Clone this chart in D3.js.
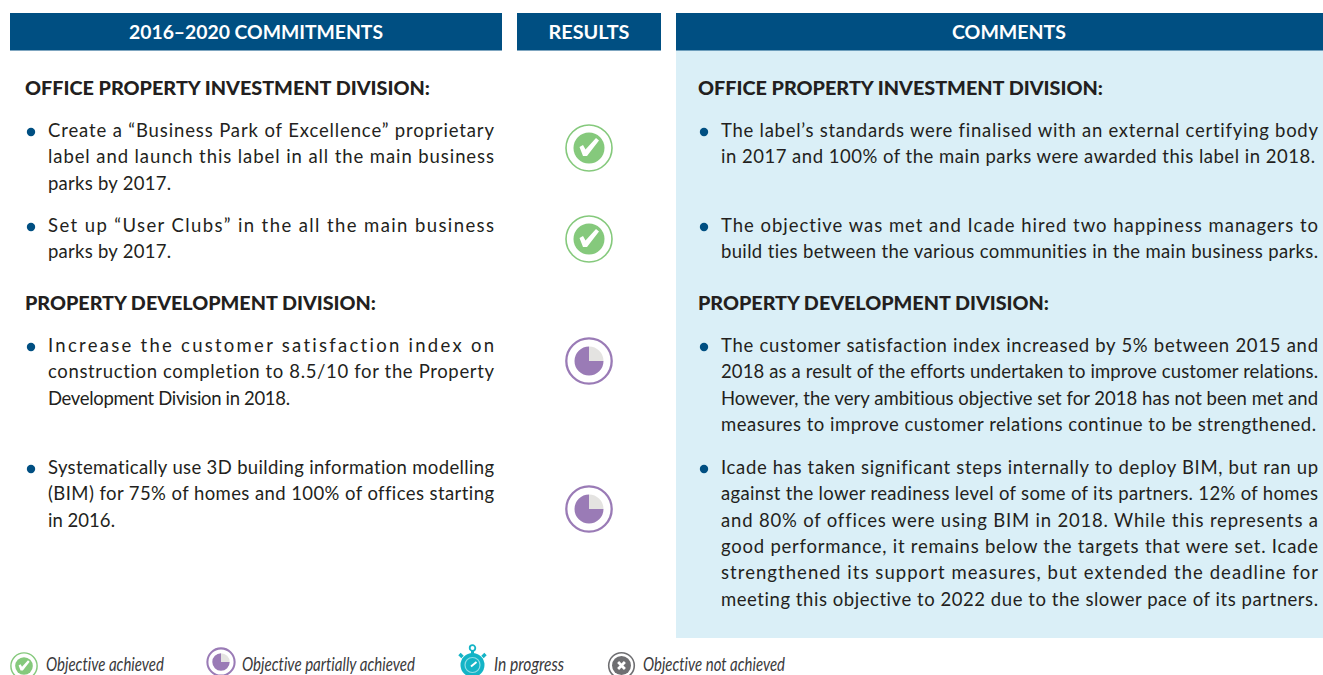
<!DOCTYPE html>
<html>
<head>
<meta charset="utf-8">
<script src="https://cdnjs.cloudflare.com/ajax/libs/d3/7.8.5/d3.min.js"></script>
<style>
  html, body { margin: 0; padding: 0; background: #fff; overflow: hidden; }
  svg { display: block; }
  text { font-family: Lato, "Open Sans", sans-serif; font-variant-ligatures: none; }
</style>
</head>
<body>
<div class="chart"></div>
<script>
// Table content
var columnTitles = ["2016–2020 COMMITMENTS", "RESULTS", "COMMENTS"];
var sectionTitles = ["OFFICE PROPERTY INVESTMENT DIVISION:", "PROPERTY DEVELOPMENT DIVISION:"];

var commitments = [
  ["Create a “Business Park of Excellence” proprietary", "label and launch this label in all the main business", "parks by 2017."],
  ["Set up “User Clubs” in the all the main business", "parks by 2017."],
  ["Increase the customer satisfaction index on", "construction completion to 8.5/10 for the Property", "Development Division in 2018."],
  ["Systematically use 3D building information modelling", "(BIM) for 75% of homes and 100% of offices starting", "in 2016."]
];
var comments = [
  ["The label’s standards were finalised with an external certifying body", "in 2017 and 100% of the main parks were awarded this label in 2018."],
  ["The objective was met and Icade hired two happiness managers to", "build ties between the various communities in the main business parks."],
  ["The customer satisfaction index increased by 5% between 2015 and", "2018 as a result of the efforts undertaken to improve customer relations.", "However, the very ambitious objective set for 2018 has not been met and", "measures to improve customer relations continue to be strengthened."],
  ["Icade has taken significant steps internally to deploy BIM, but ran up", "against the lower readiness level of some of its partners. 12% of homes", "and 80% of offices were using BIM in 2018. While this represents a", "good performance, it remains below the targets that were set. Icade", "strengthened its support measures, but extended the deadline for", "meeting this objective to 2022 due to the slower pace of its partners."]
];
// share of each objective reached, 1 = achieved (check mark)
var results = [1, 1, 0.75, 0.75];
var legendLabels = ["Objective achieved", "Objective partially achieved", "In progress", "Objective not achieved"];

var svgWidth = 1323;
var svgHeight = 675;

var navy = "#004f82";
var ink = "#231f20";
var green = "#85c97c";
var purple = "#9a7bb6";
var teal = "#14b4c6";
var grey = "#6f6f72";

var svg = d3.select(".chart")
  .append("svg")
  .attr("width", svgWidth)
  .attr("height", svgHeight);

// Column headers and the tinted comments panel
var headers = [
  {x: 10, w: 492, titleX: 256, titleW: 254},
  {x: 517, w: 144, titleX: 589, titleW: 81},
  {x: 676, w: 647, titleX: 1009, titleW: 114}
];

svg.append("rect")
  .attr("x", 676).attr("y", 50)
  .attr("width", 647).attr("height", 588)
  .attr("fill", "#daeff7");

headers.forEach(function(h, i) {
  svg.append("rect")
    .attr("x", h.x).attr("y", 13)
    .attr("width", h.w).attr("height", 37.5)
    .attr("fill", navy);
  svg.append("text")
    .attr("x", h.titleX - h.titleW / 2).attr("y", 38.5)
    .attr("font-size", 18.5)
    .attr("font-weight", 700)
    .attr("fill", "#fff")
    .attr("textLength", h.titleW)
    .attr("lengthAdjust", "spacingAndGlyphs")
    .text(columnTitles[i]);
});

// Section titles
[25, 698].forEach(function(x) {
  [94.5, 309.5].forEach(function(y, i) {
    svg.append("text")
      .attr("x", x).attr("y", y)
      .attr("font-size", 18.5)
      .attr("font-weight", 900)
      .attr("fill", ink)
      .attr("textLength", i === 0 ? 405 : 351)
      .attr("lengthAdjust", "spacingAndGlyphs")
      .text(sectionTitles[i]);
  });
});

// Bulleted paragraphs: every line is fitted to its measured width, like the justified original
var itemTops = [137, 232, 352, 474];
var leftEnds = [[494, 494, 171], [494, 171], [494, 494, 290], [494, 494, 115]];
var rightEnds = [[1318, 1315], [1318, 1318], [1318, 1318, 1318, 1316], [1318, 1318, 1318, 1318, 1318, 1318]];
var lineHeight = 26.3;

function drawItems(items, ends, bulletX, textX) {
  items.forEach(function(lines, i) {
    svg.append("circle")
      .attr("cx", bulletX).attr("cy", itemTops[i] - 5)
      .attr("r", 4.2)
      .attr("fill", navy);
    svg.selectAll(null)
      .data(lines)
      .enter()
      .append("text")
      .attr("x", textX)
      .attr("y", (d, j) => itemTops[i] + j * lineHeight)
      .attr("font-size", 18.5)
      .attr("fill", ink)
      .attr("textLength", (d, j) => ends[i][j] - textX)
      .attr("lengthAdjust", "spacing")
      .text(d => d);
  });
}

drawItems(commitments, leftEnds, 31, 48);
drawItems(comments, rightEnds, 704, 721);

// Result icons
function checkIcon(g, s) {
  var tick = [[-9.5, -1], [-6, -3], [-3.5, 1.5], [7, -10], [10, -7.5], [-2, 8], [-6, 8]];
  g.append("circle").attr("r", 23 * s).attr("fill", "#fff").attr("stroke", green).attr("stroke-width", 1.6 * Math.max(s, 0.9));
  g.append("circle").attr("r", 15.5 * s).attr("fill", green);
  g.append("path")
    .attr("d", d3.line().curve(d3.curveLinearClosed)(tick.map(p => [p[0] * s, p[1] * s])))
    .attr("fill", "#fff");
}

function pieIcon(g, share, s) {
  g.append("circle").attr("r", 22.7 * s).attr("fill", "#fff").attr("stroke", purple).attr("stroke-width", 2.3 * Math.max(s, 0.9));
  var pie = d3.pie().sort(null);
  var arc = d3.arc().innerRadius(0).outerRadius(14.5 * s);
  g.selectAll("path")
    .data(pie([share, 1 - share]))
    .enter()
    .append("path")
    .attr("d", arc)
    // start the filled part at 3 o'clock so the grey quarter sits top right
    .attr("transform", "rotate(90)")
    .attr("fill", (d, i) => i === 0 ? purple : "#e4e3e1");
}

var resultY = [148, 239, 361, 509];
results.forEach(function(r, i) {
  var g = svg.append("g").attr("transform", `translate(589, ${resultY[i]})`);
  if (r === 1) checkIcon(g, 1);
  else pieIcon(g, r, 1);
});

// Legend
var legendIconX = [24, 221, 472.5, 621.5];
var legendIconY = [666, 662, 665, 665.5];
var legendTextX = [46, 242, 494, 643];
var legendTextW = [118, 173, 70, 142];

legendLabels.forEach(function(label, i) {
  var g = svg.append("g").attr("transform", `translate(${legendIconX[i]}, ${legendIconY[i]})`);
  if (i === 0) {
    checkIcon(g, 0.57);
  } else if (i === 1) {
    pieIcon(g, 0.75, 0.6);
  } else if (i === 2) {
    g.append("circle").attr("r", 12).attr("fill", teal);
    g.append("circle").attr("r", 7.5).attr("fill", "none").attr("stroke", "#8fdde6").attr("stroke-width", 1.2);
    g.append("path").attr("d", "M-1.5,1.5L4,-3").attr("stroke", "#fff").attr("stroke-width", 2);
    g.append("circle").attr("cy", -17).attr("r", 2.8).attr("fill", "none").attr("stroke", teal).attr("stroke-width", 1.8);
    g.append("path").attr("d", "M0,-14V-11").attr("stroke", teal).attr("stroke-width", 3);
    g.append("path").attr("d", "M-13,-11L-10,-8M13,-11L10,-8").attr("stroke", teal).attr("stroke-width", 3.4);
  } else {
    g.append("circle").attr("r", 12.8).attr("fill", "#fff").attr("stroke", grey).attr("stroke-width", 1.6);
    g.append("circle").attr("r", 9.5).attr("fill", grey);
    g.append("path").attr("d", "M-3.4,-3.4L3.4,3.4M3.4,-3.4L-3.4,3.4").attr("stroke", "#fff").attr("stroke-width", 2.8);
  }
  svg.append("text")
    .attr("x", legendTextX[i]).attr("y", 671)
    .attr("font-size", 18.5)
    .attr("font-style", "italic")
    .attr("fill", "#3a3a3c")
    .attr("textLength", legendTextW[i])
    .attr("lengthAdjust", "spacingAndGlyphs")
    .text(label);
});
</script>
</body>
</html>
